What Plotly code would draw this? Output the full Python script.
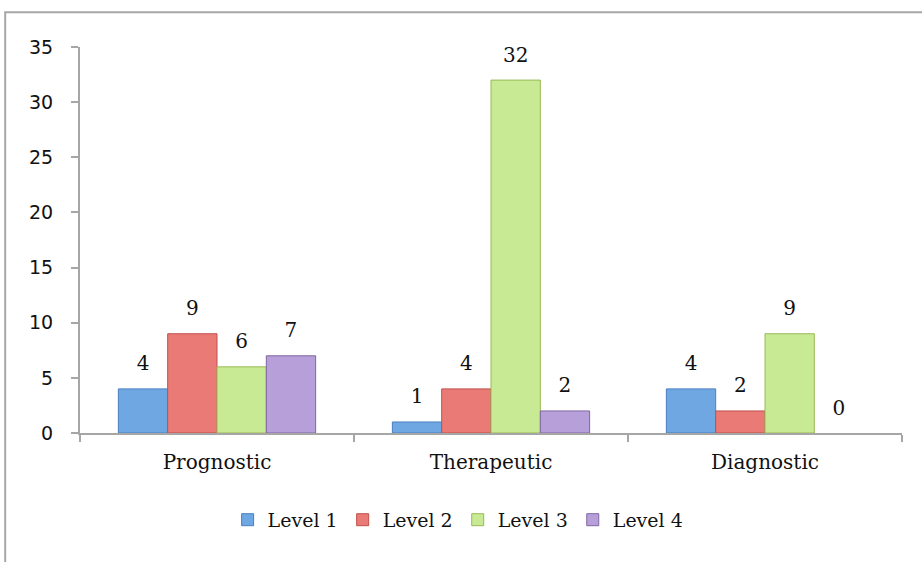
import plotly.graph_objects as go

categories = ["Prognostic", "Therapeutic", "Diagnostic"]
series_names = ["Level 1", "Level 2", "Level 3", "Level 4"]
level1 = [4, 1, 4]
level2 = [9, 4, 2]
level3 = [6, 32, 9]
level4 = [7, 2, 0]
y_ticks = [0, 5, 10, 15, 20, 25, 30, 35]

values = [level1, level2, level3, level4]
fills = ["#6fa7e3", "#ea7a76", "#c9ea94", "#b7a0da"]
edges = ["#4a7fbf", "#c0504d", "#98b954", "#8064a2"]

serif = "DejaVu Serif"
sans = "DejaVu Sans"

fig = go.Figure()
for name, vals, fc, ec in zip(series_names, values, fills, edges):
    fig.add_trace(go.Bar(
        x=categories, y=vals, name=name,
        offsetgroup=name, alignmentgroup="g",
        marker=dict(color=fc, line=dict(color=ec, width=[1 if v > 0 else 0 for v in vals])),
    ))

# value labels, grouped the same way as the bars
for name, vals in zip(series_names, values):
    fig.add_trace(go.Scatter(
        x=categories, y=vals, mode="markers+text",
        offsetgroup=name, alignmentgroup="g",
        text=[str(v) for v in vals], textposition="top center",
        textfont=dict(family=serif, size=20, color="#111111"),
        marker=dict(size=20, opacity=0),
        showlegend=False, hoverinfo="skip", cliponaxis=False,
    ))

fig.update_layout(
    width=922, height=562,
    margin=dict(l=80, r=20, t=47, b=129),
    paper_bgcolor="white", plot_bgcolor="white",
    barmode="group", bargap=0.28, bargroupgap=0,
    scattermode="group", scattergap=0.28,
    showlegend=True,
    legend=dict(
        orientation="h", x=0.46, xanchor="center", y=-0.225, yanchor="middle",
        font=dict(family=serif, size=19, color="#111111"),
        itemwidth=30, traceorder="normal",
    ),
    xaxis=dict(
        showline=True, linecolor="#a6a6a6", linewidth=2,
        ticks="outside", tickson="boundaries", ticklen=7, tickcolor="#a6a6a6", tickwidth=2,
        tickfont=dict(family=serif, size=20, color="#111111"),
        ticklabelstandoff=10,
        showgrid=False,
    ),
    yaxis=dict(
        range=[0, 35], tickvals=y_ticks,
        showline=True, linecolor="#a6a6a6", linewidth=2,
        ticks="outside", ticklen=7, tickcolor="#a6a6a6", tickwidth=2,
        tickfont=dict(family=sans, size=19, color="#111111"),
        ticklabelstandoff=14,
        showgrid=False, zeroline=False,
    ),
    shapes=[dict(
        type="rect", xref="paper", yref="paper",
        x0=-0.091, x1=1.2, y0=1.09, y1=-0.6,
        line=dict(color="#a6a6a6", width=2), layer="below",
    )],
)

fig.write_html("out.html")
